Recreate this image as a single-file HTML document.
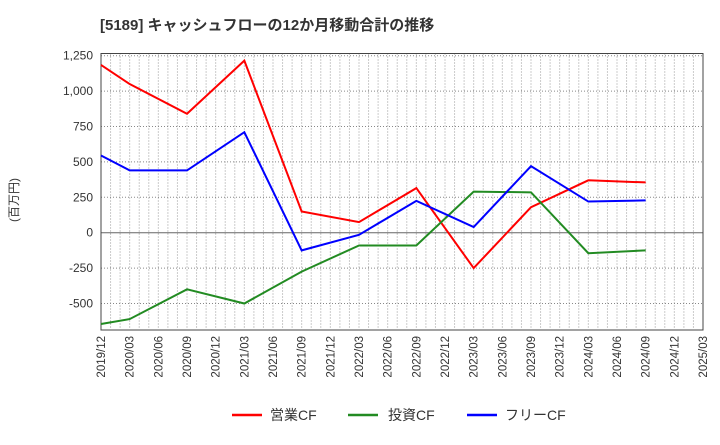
<!DOCTYPE html>
<html><head><meta charset="utf-8"><style>
body{margin:0;background:#fff;width:720px;height:440px;overflow:hidden;font-family:"Liberation Sans","Noto Sans CJK JP",sans-serif}
text{font-family:"Liberation Sans","Noto Sans CJK JP",sans-serif}
</style></head><body>
<svg id="c" width="720" height="440">
<text x="100" y="30" font-size="15" font-weight="bold" fill="#333">[5189]  キャッシュフローの12か月移動合計の推移</text>
<text transform="translate(18,200) rotate(-90)" font-size="12" fill="#333" text-anchor="middle">(百万円)</text>
<g id="grid"></g><g id="axes"></g><g id="series"></g>
<g>
<line x1="232" y1="415" x2="262" y2="415" stroke="#f00" stroke-width="2.5"/>
<text x="270" y="420" font-size="14" fill="#333">営業CF</text>
<line x1="348" y1="415" x2="378" y2="415" stroke="#228b22" stroke-width="2.5"/>
<text x="388" y="420" font-size="14" fill="#333">投資CF</text>
<line x1="467" y1="415" x2="497" y2="415" stroke="#00f" stroke-width="2.5"/>
<text x="505" y="420" font-size="14" fill="#333">フリーCF</text>
</g>
</svg>
<script>
const xLabels=["2019/12","2020/03","2020/06","2020/09","2020/12","2021/03","2021/06","2021/09","2021/12","2022/03","2022/06","2022/09","2022/12","2023/03","2023/06","2023/09","2023/12","2024/03","2024/06","2024/09","2024/12","2025/03"];
const yTicks=[1250,1000,750,500,250,0,-250,-500];
const pointIdx=[0,1,3,5,7,9,11,13,15,17,19];
const operatingCF=[1185,1050,840,1215,150,75,315,-250,180,370,355];
const investingCF=[-645,-610,-400,-500,-275,-90,-90,290,285,-145,-125];
const freeCF=[545,440,440,710,-125,-15,225,40,470,220,228];
const L=101,R=703,T=53.5,B=330;
const x=i=>L+i*(R-L)/(xLabels.length-1);
const y=v=>232.7-v*(35.4/250);
const NS="http://www.w3.org/2000/svg";
function mk(t,a,p){const e=document.createElementNS(NS,t);for(const k in a)e.setAttribute(k,a[k]);p.appendChild(e);return e;}
const grid=document.getElementById('grid'),axes=document.getElementById('axes'),ser=document.getElementById('series');
for(let m=1;m<(xLabels.length-1)*3;m++){const xx=L+m*(R-L)/((xLabels.length-1)*3);
 const g=mk('line',{x1:xx,x2:xx,y1:T,y2:B,stroke:'#999','stroke-dasharray':'1,2','stroke-width':1},grid);
 
 }
yTicks.forEach(v=>{const g=mk('line',{x1:L,x2:R,y1:y(v),y2:y(v),stroke:v===0?'#666':'#888','stroke-dasharray':v===0?'':'1,2','stroke-width':1},grid);
 
 
 const t=mk('text',{x:L-8,y:y(v)+4,'font-size':12,fill:'#333','text-anchor':'end'},axes);
 t.textContent=v.toLocaleString('en-US');
 
 });
const fr=mk('rect',{x:L,y:T,width:R-L,height:B-T,fill:'none',stroke:'#444','stroke-width':1},axes);


xLabels.forEach((s,i)=>{const t=mk('text',{transform:`translate(${x(i)+4},${B+6}) rotate(-90)`,'font-size':11.5,fill:'#333','text-anchor':'end'},axes);
 t.textContent=s;
 
 });
[[operatingCF,'#f00','operating-cf-line'],[investingCF,'#228b22','investing-cf-line'],[freeCF,'#00f','free-cf-line']].forEach(([d,c,n])=>{
 const p=mk('polyline',{points:d.map((v,k)=>x(pointIdx[k])+','+y(v)).join(' '),fill:'none',stroke:c,'stroke-width':2},ser);
 
 });
</script>
</body></html>
